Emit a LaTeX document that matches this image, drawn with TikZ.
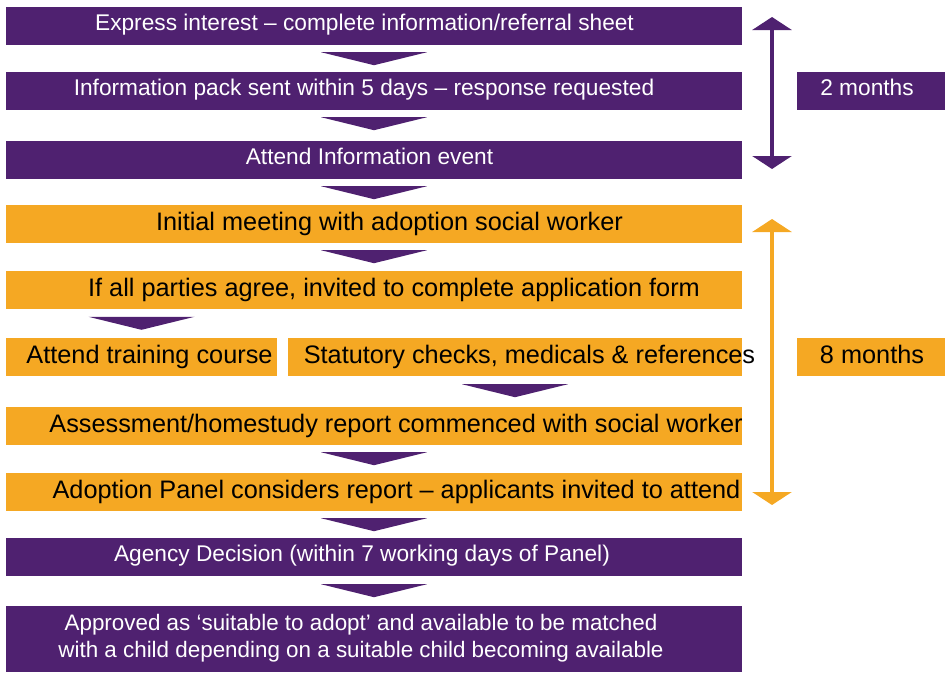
\documentclass[tikz,border=0pt]{standalone}
\usepackage{fontspec}
\setmainfont{Liberation Sans}
\usetikzlibrary{arrows.meta,calc}

\definecolor{adoptpurple}{HTML}{4F2170}
\definecolor{adoptorange}{HTML}{F5A823}

\tikzset{
	stage/.style={rectangle, inner sep=0pt, minimum height=38pt},
	oneline/.style={text depth=6pt},
	purplestage/.style={stage, fill=adoptpurple, text=white, font=\fontsize{22.7}{27}\selectfont},
	purpleline/.style={purplestage, text height=16pt, text depth=8pt},
	orangestage/.style={stage, oneline, text height=18pt, fill=adoptorange, text=black, font=\fontsize{25.3}{30}\selectfont},
	textshift/.style={execute at begin node={\hspace*{#1}}, execute at end node={\hspace*{-#1}}},
	timespan/.style={line width=4pt, {Triangle[width=39pt,length=13pt]}-{Triangle[width=39pt,length=13pt]}}
}

\begin{document}
\begin{tikzpicture}[x=1pt, y=-1pt]

	\useasboundingbox (0, 0) rectangle (945, 672);

		% main steps
		\node[purpleline, minimum width=736pt, textshift=-9.5pt] (express) at (374, 26){Express interest – complete information/referral sheet};
		\node[purpleline, minimum width=736pt, textshift=-10pt] (infopack) at (374, 91){Information pack sent within 5 days – response requested};
		\node[purpleline, minimum width=736pt, textshift=-4.5pt] (infoevent) at (374, 160){Attend Information event};
		\node[orangestage, minimum width=736pt, textshift=15.5pt] (meeting) at (374, 224){Initial meeting with adoption social worker};
		\node[orangestage, minimum width=736pt, textshift=20pt] (application) at (374, 290){If all parties agree, invited to complete application form};
		\node[orangestage, minimum width=271pt, textshift=8pt] (training) at (141.5, 357){Attend training course};
		\node[orangestage, minimum width=454pt, textshift=14.5pt] (checks) at (515, 357){Statutory checks, medicals \& references};
		\node[orangestage, minimum width=736pt, textshift=22pt] (assessment) at (374, 426){Assessment/homestudy report commenced with social worker};
		\node[orangestage, minimum width=736pt, textshift=22.5pt] (panel) at (374, 492){Adoption Panel considers report – applicants invited to attend};
		\node[purpleline, minimum width=736pt, textshift=-12pt] (decision) at (374, 557){Agency Decision (within 7 working days of Panel)};
		\node[purplestage, font=\fontsize{22.4}{27}\selectfont, minimum width=736pt, minimum height=66pt, textshift=-13pt] (approved) at (374, 639){\begin{tabular}{@{}c@{}}Approved as ‘suitable to adopt’ and available to be matched\\with a child depending on a suitable child becoming available\end{tabular}};

		% down arrows
		\fill[adoptpurple] ($(express.south)+(-53, 7)$) -- ++(106, 0) -- ++(-53, 13) -- cycle;
		\fill[adoptpurple] ($(infopack.south)+(-53, 7)$) -- ++(106, 0) -- ++(-53, 13) -- cycle;
		\fill[adoptpurple] ($(infoevent.south)+(-53, 7)$) -- ++(106, 0) -- ++(-53, 13) -- cycle;
		\fill[adoptpurple] ($(meeting.south)+(-53, 7)$) -- ++(106, 0) -- ++(-53, 13) -- cycle;
		\fill[adoptpurple] ($(training.north)+(-53, -21)$) -- ++(106, 0) -- ++(-53, 13) -- cycle;
		\fill[adoptpurple] ($(checks.south)+(-53, 8)$) -- ++(106, 0) -- ++(-53, 13) -- cycle;
		\fill[adoptpurple] ($(assessment.south)+(-53, 7)$) -- ++(106, 0) -- ++(-53, 13) -- cycle;
		\fill[adoptpurple] ($(panel.south)+(-53, 7)$) -- ++(106, 0) -- ++(-53, 13) -- cycle;
		\fill[adoptpurple] ($(decision.south)+(-53, 8)$) -- ++(106, 0) -- ++(-53, 13) -- cycle;

		% time spans
		\coordinate (twostart) at (772, 17);
		\coordinate (twoend) at (772, 169);
		\coordinate (eightstart) at (772, 219);
		\coordinate (eightend) at (772, 505);
		\draw[timespan, adoptpurple] (twostart) -- (twoend);
		\draw[timespan, adoptorange] (eightstart) -- (eightend);

		\node[purpleline, minimum width=148pt, textshift=-4pt] (twomonths) at (871, 91){2 months};
		\node[orangestage, minimum width=148pt, textshift=1pt] (eightmonths) at (871, 357){8 months};

	\end{tikzpicture}
\end{document}
